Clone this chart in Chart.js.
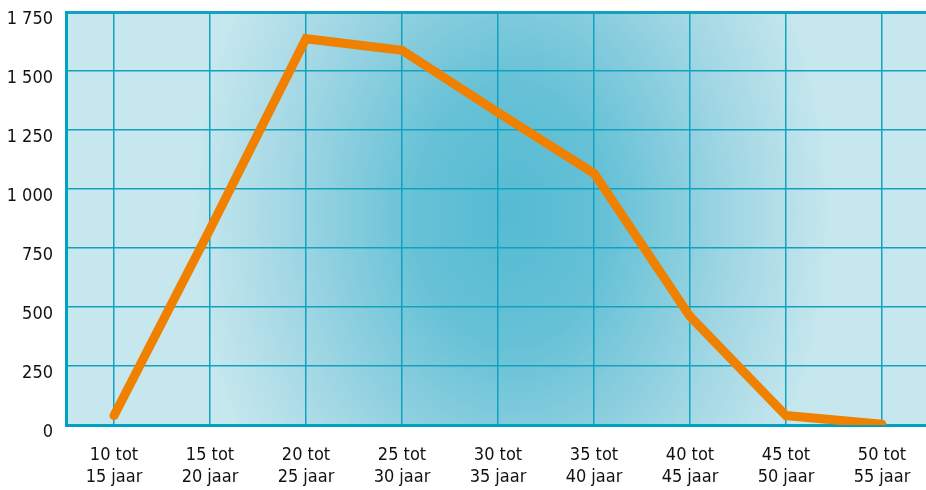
<!DOCTYPE html>
<html>
<head>
<meta charset="utf-8">
<script src="https://cdn.jsdelivr.net/npm/chart.js@4/dist/chart.umd.min.js"></script>
<style>
    html, body { margin: 0; padding: 0; background: #fff; overflow: hidden; }
    #wrap { width: 930px; height: 502px; margin-top: -12px; }
</style>
</head>
<body>
<div id="wrap"><canvas id="age-chart"></canvas></div>
<script>
'use strict'

// Data
const categories = [
    ['10 tot', '15 jaar'], ['15 tot', '20 jaar'], ['20 tot', '25 jaar'],
    ['25 tot', '30 jaar'], ['30 tot', '35 jaar'], ['35 tot', '40 jaar'],
    ['40 tot', '45 jaar'], ['45 tot', '50 jaar'], ['50 tot', '55 jaar']
];
const counts = [40, 830, 1638, 1589, 1325, 1067, 460, 40, 3];
const yTicks = [0, 250, 500, 750, 1000, 1250, 1500, 1750];

const TEAL = '#12a2bf';

// radial (slightly tall) backdrop behind the plot
const backdrop = {
    id: 'backdrop',
    beforeDraw(chart) {
        const {ctx, chartArea: a} = chart;
        const cx = a.left + (a.right - a.left) * 0.516;
        const cy = a.top + (a.bottom - a.top) * 0.49;
        ctx.save();
        ctx.beginPath();
        ctx.rect(a.left, a.top, a.right - a.left, a.bottom - a.top);
        ctx.clip();
        ctx.fillStyle = '#c6e7ee';
        ctx.fillRect(a.left, a.top, a.right - a.left, a.bottom - a.top);
        ctx.translate(cx, cy);
        ctx.scale(1, 1.35);
        const g = ctx.createRadialGradient(0, 0, 0, 0, 0, 320);
        g.addColorStop(0, '#55bbd3');
        g.addColorStop(0.3, '#66c1d6');
        g.addColorStop(0.7, '#a2d7e4');
        g.addColorStop(1, '#c6e7ee');
        ctx.fillStyle = g;
        ctx.fillRect(-500, -400, 1000, 800);
        ctx.restore();
    }
};

const font = {family: '"DejaVu Sans Condensed", "Liberation Sans Narrow", sans-serif', size: 18, lineHeight: 1.25};

new Chart(document.getElementById('age-chart'), {
    type: 'line',
    data: {
        labels: categories,
        datasets: [{
            data: counts,
            borderColor: '#f08000',
            borderWidth: 9,
            borderCapStyle: 'round',
            borderJoinStyle: 'miter',
            pointRadius: 0,
            tension: 0,
            fill: false
        }]
    },
    options: {
        responsive: true,
        maintainAspectRatio: false,
        animation: false,
        layout: {padding: {top: 0, right: 0, left: 0, bottom: 0}},
        plugins: {legend: {display: false}, tooltip: {enabled: false}},
        scales: {
            x: {
                offset: true,
                grid: {offset: false, color: TEAL, lineWidth: 1.5, drawTicks: false},
                border: {color: '#00a2c2', width: 3},
                ticks: {color: '#111', font: font, padding: 19, maxRotation: 0, autoSkip: false},
                afterFit(scale) { scale.height = 65; }
            },
            y: {
                min: 0,
                max: 1750,
                afterBuildTicks(scale) { scale.ticks = yTicks.map(v => ({value: v})); },
                grid: {color: TEAL, lineWidth: (c) => c.tick && c.tick.value === 1750 ? 3 : 1.5, drawTicks: false},
                border: {color: '#00a2c2', width: 3},
                ticks: {
                    color: '#111',
                    font: font,
                    padding: 13,
                    labelOffset: 7,
                    callback: (v) => String(v).replace(/\B(?=(\d{3})+(?!\d))/g, ' ')
                },
                afterFit(scale) { scale.width = 66; }
            }
        }
    },
    plugins: [backdrop]
});
</script>
</body>
</html>
